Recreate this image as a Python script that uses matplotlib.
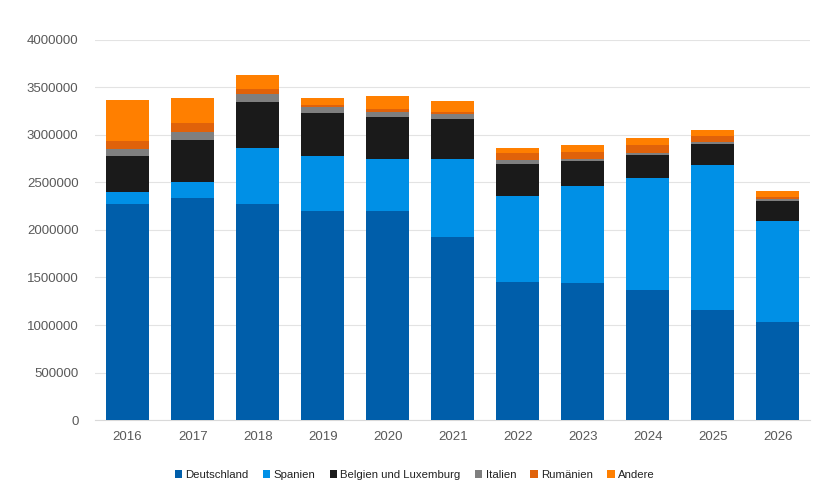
import numpy as np
import matplotlib
matplotlib.use("Agg")
import matplotlib.pyplot as plt

plt.rcParams['font.family'] = ['Liberation Sans', 'DejaVu Sans']

# Jahre und Werte
years = ['2016', '2017', '2018', '2019', '2020', '2021', '2022', '2023', '2024', '2025', '2026']
deutschland = [2273700, 2336800, 2270500, 2194700, 2200000, 1923200, 1452600, 1442100, 1368400, 1161000, 1031600]
spanien = [123200, 163200, 589500, 578900, 547400, 824200, 905300, 1024200, 1182100, 1523200, 1066300]
belgien_lux = [378900, 450500, 490500, 452600, 442100, 424200, 336800, 256800, 235800, 224200, 204200]
italien = [73700, 84200, 77900, 65300, 55800, 52600, 42100, 27400, 24200, 17900, 27400]
rumaenien = [87400, 88400, 55800, 24200, 25300, 14700, 70500, 70500, 81100, 66300, 14700]
andere = [431600, 263200, 150500, 73700, 143200, 122100, 55800, 70500, 71600, 56800, 66300]

series = [
    ('Deutschland', deutschland, '#005eaa'),
    ('Spanien', spanien, '#0090e6'),
    ('Belgien und Luxemburg', belgien_lux, '#1a1a1a'),
    ('Italien', italien, '#7f7f7f'),
    ('Rumänien', rumaenien, '#e0620a'),
    ('Andere', andere, '#ff7f00'),
]

fig = plt.figure(figsize=(8.2, 4.93), dpi=100)
ax = fig.add_axes([0.116, 0.148, 0.872, 0.771])

x = np.arange(len(years))
bottom = np.zeros(len(years))
for name, vals, col in series:
    vals = np.array(vals, dtype=float)
    ax.bar(x, vals, bottom=bottom, width=0.66, color=col, label=name, zorder=3)
    bottom += vals

ax.set_xlim(-0.5, len(years) - 0.5)
ax.set_ylim(0, 4000000)
ax.set_yticks(np.arange(0, 4000001, 500000))
ax.set_yticklabels([str(v) for v in range(0, 4000001, 500000)])
ax.set_xticks(x)
ax.set_xticklabels(years)
ax.grid(axis='y', color='#e3e3e3', linewidth=0.8, zorder=0)
for s in ['top', 'right', 'left']:
    ax.spines[s].set_visible(False)
ax.spines['bottom'].set_color('#d9d9d9')
ax.tick_params(axis='both', length=0, labelsize=9.5, colors='#595959')
ax.tick_params(axis='y', pad=12)
ax.tick_params(axis='x', pad=8)

ax.legend(loc='center', bbox_to_anchor=(0.447, -0.145), ncol=6, frameon=False,
          fontsize=8.2, handlelength=0.65, handleheight=0.65, handletextpad=0.3,
          columnspacing=1.25, labelcolor='#222222')

fig.savefig('out.png', dpi=100, facecolor='white')
